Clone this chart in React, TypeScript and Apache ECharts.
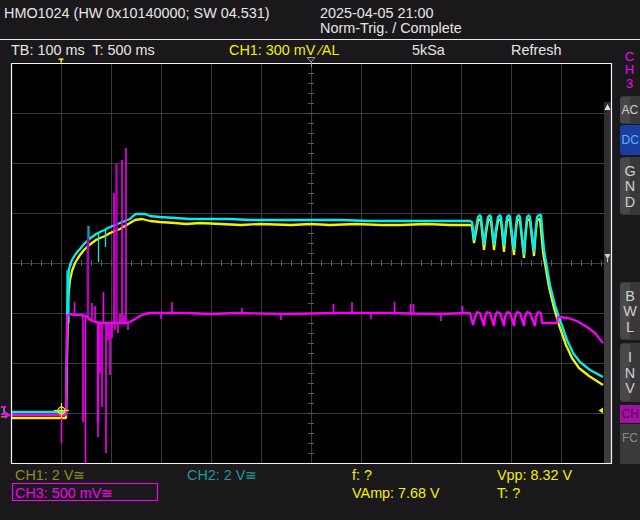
import React, { useEffect, useRef } from "react";
import * as echarts from "echarts";

// Time in ms relative to the screen centre (100 ms/div); vertical values in divisions.
const TIME_MIN = -600;
const TIME_MAX = 600;
const TIME_STEP = 100;
const DIV_MIN = -4;
const DIV_MAX = 4;
const DIV_STEP = 1;

// CH1 (yellow)
const ch1Trace: number[][] = [
  [-600, -3.1], [-490, -3.1], [-488, -1.94], [-487, -1.34], [-486, -0.74], [-482, -0.34],
  [-478, -0.16], [-472, 0.0], [-466, 0.1], [-462, 0.16], [-454, 0.26], [-446, 0.34],
  [-438, 0.4], [-430, 0.46], [-422, 0.5], [-412, 0.54], [-402, 0.6], [-392, 0.64],
  [-382, 0.68], [-372, 0.74], [-362, 0.8], [-352, 0.86], [-338, 0.88], [-322, 0.84],
  [-302, 0.82], [-272, 0.8], [-250, 0.78], [-222, 0.8], [-180, 0.78], [-140, 0.76],
  [-102, 0.78], [-40, 0.76], [0, 0.78], [38, 0.76], [90, 0.78], [140, 0.76], [178, 0.76],
  [230, 0.78], [280, 0.76], [318, 0.76],
  [322, 0.74], [326, 0.4], [330, 0.62], [334, 0.84], [338, 0.88], [340, 0.84], [346, 0.26],
  [350, 0.6], [354, 0.84], [358, 0.88], [360, 0.84], [366, 0.26], [370, 0.6], [374, 0.84],
  [378, 0.88], [380, 0.84], [386, 0.22], [389, 0.58], [392, 0.84], [396, 0.88], [398, 0.84],
  [406, 0.16], [409, 0.56], [412, 0.84], [416, 0.88], [418, 0.84], [426, 0.1], [429, 0.54],
  [432, 0.84], [436, 0.88], [438, 0.84], [446, 0.14], [449, 0.56], [452, 0.84], [456, 0.88],
  [458, 0.88], [464, 0.22], [476, -0.48], [486, -0.9], [496, -1.24], [510, -1.64],
  [522, -1.9], [536, -2.1], [556, -2.26], [584, -2.44],
];

// CH2 (cyan)
const ch2Trace: number[][] = [
  [-600, -2.98], [-490, -2.98], [-488, -1.54], [-487, -0.74], [-486, -0.24], [-482, -0.04],
  [-478, 0.06], [-472, 0.16], [-466, 0.24], [-462, 0.28], [-454, 0.38], [-448, 0.44],
  [-446, 0.46], [-438, 0.52], [-430, 0.58], [-426, 0.6], [-418, 0.64], [-412, 0.66],
  [-410, 0.68], [-402, 0.72], [-392, 0.76], [-382, 0.8], [-372, 0.84], [-362, 0.88],
  [-356, 0.94], [-350, 0.98], [-332, 0.98], [-322, 0.94], [-302, 0.92], [-272, 0.9],
  [-242, 0.88], [-200, 0.88], [-162, 0.88], [-122, 0.86], [-60, 0.86], [-2, 0.86],
  [60, 0.86], [118, 0.84], [180, 0.84], [238, 0.84], [318, 0.84],
  [322, 0.82], [326, 0.46], [330, 0.7], [334, 0.92], [338, 0.96], [340, 0.92], [346, 0.36],
  [350, 0.68], [354, 0.92], [358, 0.96], [360, 0.92], [366, 0.36], [370, 0.68], [374, 0.92],
  [378, 0.96], [380, 0.92], [386, 0.34], [389, 0.66], [392, 0.92], [396, 0.96], [398, 0.92],
  [406, 0.26], [409, 0.64], [412, 0.92], [416, 0.96], [418, 0.92], [426, 0.16], [429, 0.62],
  [432, 0.92], [436, 0.96], [438, 0.92], [446, 0.22], [449, 0.62], [452, 0.92], [456, 0.96],
  [460, 0.96], [466, 0.26], [478, -0.44], [488, -0.84], [498, -1.14], [512, -1.54],
  [524, -1.8], [538, -1.98], [558, -2.14], [584, -2.28],
];

// CH3 (magenta)
const ch3Trace: number[][] = [
  [-600, -3.04], [-490, -3.04], [-488, -1.06], [-482, -1.02], [-472, -1.04], [-458, -1.04],
  [-450, -1.06], [-445, -1.1], [-442, -1.14], [-437, -1.16], [-431, -1.18], [-421, -1.2],
  [-400, -1.2], [-380, -1.2], [-369, -1.2], [-362, -1.18], [-352, -1.12], [-342, -1.06],
  [-332, -1.02], [-322, -1.0], [-250, -1.0], [-200, -1.02], [-150, -1.0], [-50, -1.02],
  [50, -1.0], [150, -1.0], [250, -1.02], [318, -1.0],
  [324, -1.24], [328, -1.08], [332, -0.98], [338, -1.0], [346, -1.26], [348, -1.08],
  [352, -0.98], [358, -1.0], [366, -1.26], [368, -1.08], [372, -0.98], [378, -1.0],
  [386, -1.26], [388, -1.08], [392, -0.98], [398, -1.0], [406, -1.26], [408, -1.08],
  [412, -0.98], [418, -1.0], [426, -1.26], [428, -1.08], [432, -0.98], [438, -1.0],
  [448, -1.26], [450, -1.08], [454, -0.98], [460, -1.0], [462, -1.2], [492, -1.2],
  [494, -1.08], [514, -1.1], [532, -1.16], [552, -1.28], [568, -1.4], [584, -1.6],
];

// Glitch spikes: [time ms, start div, tip div]
const ch2Spikes: number[][] = [
  [-447, 0.44, -0.4], [-425, 0.6, 0.02], [-411, 0.66, 0.32], [-484, -0.1, -1.2],
];
const ch2PersistSpikes: number[][] = [
  [-445, 0.46, 0.74], [-487, -1.0, -0.14],
];
const ch3Spikes: number[][] = [
  [-499, -3.04, -3.6], [-473, -1.04, -0.78], [-456, -1.04, -3.18], [-451, -1.06, -4.0],
  [-438, -1.16, -0.8], [-432, -1.18, -0.86], [-426, -1.18, -3.48], [-422, -1.2, -2.2],
  [-418, -1.2, -2.88], [-415, -1.2, -0.58], [-410, -1.2, -3.8], [-406, -1.2, -1.54],
  [-402, -1.2, -2.24], [-394, -1.2, 1.4], [-392, -1.2, -1.34], [-378, -1.2, 2.06],
  [-370, -1.2, 2.3], [-398, -1.2, -1.5], [-386, -1.2, -1.4], [-382, -1.2, -1.02],
  [-374, -1.2, -1.04], [-366, -1.18, -1.34],
  [-278, -1.0, -0.78], [-138, -1.0, -0.9], [45, -1.0, -0.82], [82, -1.0, -0.78],
  [167, -1.0, -0.78], [199, -1.0, -0.82], [205, -1.0, -0.82], [303, -1.0, -0.86],
  [-300, -1.0, -1.12], [-60, -1.02, -1.14], [120, -1.0, -1.12], [260, -1.02, -1.16],
];
const ch3PersistSpikes: number[][] = [
  [-446, -1.1, 0.5], [-389, -1.2, 1.98], [-426, -1.2, -3.2],
];

const headerLeft = "HMO1024 (HW 0x10140000; SW 04.531)";
const headerDate = "2025-04-05 21:00";
const headerTrig = "Norm-Trig. / Complete";
const rowTB = "TB: 100 ms  T: 500 ms";
const rowCH1 = "CH1: 300 mV \u2044AL";
const rowSa = "5kSa";
const rowMode = "Refresh";
const footCH1 = "CH1: 2 V\u2245";
const footCH2 = "CH2: 2 V\u2245";
const footCH3 = "CH3: 500 mV\u2245";
const measF = "f: ?";
const measVpp = "Vpp: 8.32 V";
const measVamp = "VAmp: 7.68 V";
const measT = "T: ?";

const FONT = '14.4px "Liberation Sans", Arial, sans-serif';
const FONT_SIDE = '13px "Liberation Sans", Arial, sans-serif';
const FONT_BTN = '12px "Liberation Sans", Arial, sans-serif';
const YEL = "#f2f200";
const CYA = "#00eeee";
const MAG = "#f800f8";

function spikeSeries(data: number[][], color: string, width: number, z: number) {
  return {
    type: "custom",
    data,
    z,
    silent: true,
    encode: { x: 0, y: [1, 2] },
    renderItem: (params: any, api: any) => {
      const t = api.value(0);
      const p1 = api.coord([t, api.value(1)]);
      const p2 = api.coord([t, api.value(2)]);
      return {
        type: "line",
        shape: { x1: p1[0], y1: p1[1], x2: p2[0], y2: p2[1] },
        style: { stroke: color, lineWidth: width },
      };
    },
  };
}

function lineSeries(data: number[][], color: string, z: number) {
  return {
    type: "line",
    data,
    z,
    showSymbol: false,
    silent: true,
    lineStyle: { color, width: 2.3 },
  };
}

function txt(text: string, x: number, y: number, fill: string, align = "left", font = FONT) {
  return {
    type: "text",
    z: 120,
    silent: true,
    style: { text, x, y, fill, font, align, verticalAlign: "middle" },
  };
}

function button(y: number, h: number, labels: string[], opts: any = {}) {
  const els: any[] = [];
  els.push({
    type: "rect", z: 110, silent: true,
    shape: { x: 620, y, width: 26, height: h, r: 3 },
    style: { fill: opts.fill || "#3a373b" },
  });
  if (!opts.fill) {
    els.push({
      type: "rect", z: 111, silent: true,
      shape: { x: 620, y: y + 1, width: 10, height: h - 2, r: [3, 0, 0, 3] },
      style: { fill: "#4a474b" },
    });
  }
  const color = opts.color || "#cfcfcf";
  if (labels.length === 1) {
    els.push(txt(labels[0], 621.5, y + h / 2, color, "left", FONT_BTN));
  } else {
    const step = 15.5;
    const start = y + h / 2 - ((labels.length - 1) * step) / 2;
    labels.forEach((l, i) => els.push(txt(l, 630, start + i * step, color, "center", FONT)));
  }
  return els;
}

export default function App() {
  const ref = useRef<HTMLDivElement>(null);
  useEffect(() => {
    if (!ref.current) return;
    const chart = echarts.init(ref.current, undefined, { renderer: "svg" });
    const gridCol = "#3b3b3b";
    const tickCol = "#5a5a5a";
    const baseX = {
      type: "value", min: TIME_MIN, max: TIME_MAX, interval: TIME_STEP, position: "bottom",
      axisLabel: { show: false },
      axisLine: { show: true, onZero: true, onZeroAxisIndex: 0, lineStyle: { color: gridCol, width: 1 } },
      minorTick: { show: true, splitNumber: 5, length: 3, lineStyle: { color: tickCol } },
    };
    const baseY = {
      type: "value", min: DIV_MIN, max: DIV_MAX, interval: DIV_STEP, position: "left",
      axisLabel: { show: false },
      axisLine: { show: true, onZero: true, onZeroAxisIndex: 0, lineStyle: { color: gridCol, width: 1 } },
      minorTick: { show: true, splitNumber: 5, length: 3, lineStyle: { color: tickCol } },
    };
    const graphics: any[] = [];
    // plot frame
    graphics.push({
      type: "rect", z: 100, silent: true,
      shape: { x: 11.5, y: 63.5, width: 600, height: 400 },
      style: { fill: "none", stroke: "#f4f4f4", lineWidth: 1.2 },
    });
    // right scroll strip inside plot
    graphics.push({ type: "rect", z: 99, silent: true, shape: { x: 604, y: 102, width: 7, height: 153 }, style: { fill: "#2f2d30" } });
    graphics.push({ type: "rect", z: 99, silent: true, shape: { x: 604, y: 255, width: 7, height: 208 }, style: { fill: "#3e3c3f" } });
    graphics.push({ type: "polygon", z: 101, silent: true, shape: { points: [[607.5, 104], [604.5, 110], [610.5, 110]] }, style: { fill: "#e0e0e0" } });
    graphics.push({ type: "polygon", z: 101, silent: true, shape: { points: [[604.5, 254], [610.5, 254], [607.5, 259]] }, style: { fill: "#d0d0d0" } });
    graphics.push({ type: "line", z: 101, silent: true, shape: { x1: 607.5, y1: 259, x2: 607.5, y2: 262 }, style: { stroke: "#d0d0d0", lineWidth: 1 } });
    // separator line
    graphics.push({ type: "line", z: 100, silent: true, shape: { x1: 0, y1: 39.5, x2: 640, y2: 39.5 }, style: { stroke: "#e8e8e8", lineWidth: 1.2 } });
    // header
    graphics.push(txt(headerLeft, 4, 12.5, "#e6e6e6"));
    graphics.push(txt(headerDate, 320, 12.5, "#e6e6e6"));
    graphics.push(txt(headerTrig, 320, 27.5, "#e6e6e6"));
    graphics.push(txt(rowTB, 11, 50, "#e6e6e6"));
    graphics.push(txt(rowCH1, 229, 50, YEL));
    graphics.push(txt(rowSa, 412, 50, "#e6e6e6"));
    graphics.push(txt(rowMode, 511, 50, "#e6e6e6"));
    // top markers
    graphics.push({ type: "rect", z: 101, silent: true, shape: { x: 58.5, y: 58.5, width: 5, height: 1.5 }, style: { fill: YEL } });
    graphics.push({ type: "rect", z: 101, silent: true, shape: { x: 60.5, y: 58.5, width: 1.5, height: 4 }, style: { fill: YEL } });
    graphics.push({ type: "polygon", z: 101, silent: true, shape: { points: [[307, 57.5], [315, 57.5], [311, 62]] }, style: { fill: "none", stroke: "#9a9a9a", lineWidth: 1 } });
    graphics.push({ type: "line", z: 101, silent: true, shape: { x1: 311.5, y1: 62, x2: 311.5, y2: 67 }, style: { stroke: "#9a9a9a", lineWidth: 1 } });
    // trigger cross
    graphics.push({ type: "circle", z: 102, silent: true, shape: { cx: 61.5, cy: 410.5, r: 3.5 }, style: { fill: "none", stroke: YEL, lineWidth: 1.2 } });
    graphics.push({ type: "line", z: 102, silent: true, shape: { x1: 54, y1: 410.5, x2: 69, y2: 410.5 }, style: { stroke: YEL, lineWidth: 1.2 } });
    graphics.push({ type: "line", z: 102, silent: true, shape: { x1: 61.5, y1: 403, x2: 61.5, y2: 418 }, style: { stroke: YEL, lineWidth: 1.2 } });
    // trigger level marker right
    graphics.push({ type: "polygon", z: 102, silent: true, shape: { points: [[598.5, 410.5], [603, 407.5], [603, 413.5]] }, style: { fill: YEL } });
    // left channel marker
    graphics.push({ type: "polygon", z: 102, silent: true, shape: { points: [[5, 411], [11, 415], [5, 419]] }, style: { fill: MAG } });
    graphics.push({ type: "rect", z: 102, silent: true, shape: { x: 1, y: 406, width: 5, height: 2 }, style: { fill: MAG } });
    graphics.push({ type: "rect", z: 102, silent: true, shape: { x: 3, y: 408, width: 2, height: 5 }, style: { fill: "#2a9a6a" } });
    graphics.push({ type: "rect", z: 102, silent: true, shape: { x: 1, y: 413, width: 4, height: 2 }, style: { fill: MAG } });
    graphics.push({ type: "rect", z: 102, silent: true, shape: { x: 1, y: 416, width: 5, height: 1.5 }, style: { fill: "#8a8a20" } });
    // side panel
    graphics.push(txt("C", 629.5, 56, MAG, "center", FONT_SIDE));
    graphics.push(txt("H", 629.5, 69.5, MAG, "center", FONT_SIDE));
    graphics.push(txt("3", 629.5, 83, MAG, "center", FONT_SIDE));
    graphics.push(...button(96, 28, ["AC"]));
    graphics.push(...button(125, 30, ["DC"], { fill: "#1b3f9f", color: "#5ab2ff" }));
    graphics.push(...button(157, 58, ["G", "N", "D"]));
    graphics.push(...button(282, 58, ["B", "W", "L"]));
    graphics.push(...button(343, 59, ["I", "N", "V"]));
    graphics.push({ type: "rect", z: 110, silent: true, shape: { x: 620, y: 405, width: 22, height: 18 }, style: { fill: "#a012a0" } });
    graphics.push(txt("CH", 621.5, 414, "#5a005a", "left", FONT_BTN));
    graphics.push({ type: "rect", z: 110, silent: true, shape: { x: 620, y: 424, width: 22, height: 40 }, style: { fill: "#3a3a3a" } });
    graphics.push(txt("FC", 622, 438, "#8a8a8a", "left", FONT_BTN));
    // footer
    graphics.push(txt(footCH1, 15, 474.5, "#8e8e1c"));
    graphics.push(txt(footCH2, 187, 474.5, "#1a9c9c"));
    graphics.push(txt(measF, 352, 474.5, YEL));
    graphics.push(txt(measVpp, 497, 474.5, YEL));
    graphics.push({ type: "rect", z: 110, silent: true, shape: { x: 12.5, y: 483.5, width: 145, height: 17 }, style: { fill: "none", stroke: MAG, lineWidth: 1.2 } });
    graphics.push(txt(footCH3, 15, 492.5, MAG));
    graphics.push(txt(measVamp, 352, 492.5, YEL));
    graphics.push(txt(measT, 497, 492.5, YEL));

    chart.setOption({
      animation: false,
      backgroundColor: "#1b181c",
      grid: { left: 11, top: 63, width: 600, height: 400, show: true, backgroundColor: "#000", borderWidth: 0 },
      xAxis: [
        { ...baseX, splitLine: { show: true, lineStyle: { color: gridCol, width: 1 } },
          axisTick: { show: true, inside: true, length: 3, lineStyle: { color: tickCol } } },
        { ...baseX, splitLine: { show: false },
          axisTick: { show: true, inside: false, length: 3, lineStyle: { color: tickCol } } },
      ],
      yAxis: [
        { ...baseY, splitLine: { show: true, lineStyle: { color: gridCol, width: 1 } },
          axisTick: { show: true, inside: true, length: 3, lineStyle: { color: tickCol } } },
        { ...baseY, splitLine: { show: false },
          axisTick: { show: true, inside: false, length: 3, lineStyle: { color: tickCol } } },
      ],
      series: [
        lineSeries(ch1Trace, YEL, 3),
        spikeSeries(ch2PersistSpikes, "#00a4a4", 2.5, 4),
        lineSeries(ch2Trace, CYA, 4),
        spikeSeries(ch2Spikes, CYA, 1.3, 5),
        lineSeries(ch3Trace, MAG, 6),
        spikeSeries(ch3PersistSpikes, "#b000b8", 2.5, 6),
        spikeSeries(ch3Spikes, MAG, 1.6, 7),
      ],
      graphic: { elements: graphics },
    });
    return () => chart.dispose();
  }, []);
  return <div ref={ref} style={{ position: "fixed", left: 0, top: 0, width: 640, height: 520 }} />;
}
